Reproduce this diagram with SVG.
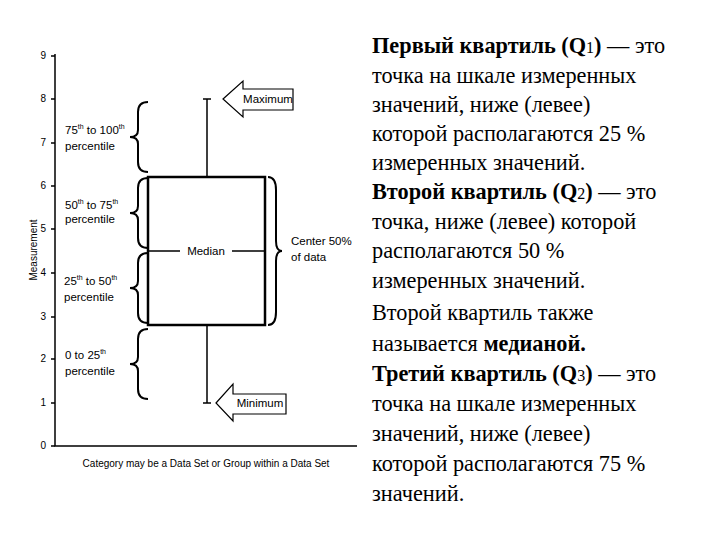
<svg xmlns="http://www.w3.org/2000/svg" width="720" height="540" viewBox="0 0 720 540">
<style>
.ax{stroke:#000;stroke-width:1.5;fill:none}
.sm{font-family:"Liberation Sans",Arial,sans-serif;font-size:10px;fill:#000}
.lb{font-family:"Liberation Sans",Arial,sans-serif;font-size:11.5px;fill:#000}
.br{stroke:#000;stroke-width:2;fill:none}
.tx{font-family:"Liberation Serif","Times New Roman",serif;font-size:22.3px;fill:#000}
</style>
<rect width="720" height="540" fill="#fff"/>
<g id="axes">
<path class="ax" d="M55,54 V446 H357"/>
<g class="sm" text-anchor="end">
<text x="46" y="59">9</text><text x="46" y="102">8</text><text x="46" y="146">7</text><text x="46" y="189">6</text><text x="46" y="232">5</text><text x="46" y="276">4</text><text x="46" y="320">3</text><text x="46" y="362">2</text><text x="46" y="406">1</text><text x="46" y="449">0</text>
</g>
<path class="ax" stroke-width="1" d="M51,56h4M51,99h4M51,143h4M51,186h4M51,229h4M51,273h4M51,317h4M51,359h4M51,403h4M51,446h4"/>
<text class="sm" transform="translate(37,250) rotate(-90)" text-anchor="middle" font-size="9">Measurement</text>
<text class="sm" x="206" y="467" text-anchor="middle" font-size="10.5">Category may be a Data Set or Group within a Data Set</text>
</g>
<g id="box">
<rect x="148" y="177" width="117" height="148" fill="none" stroke="#000" stroke-width="2.5"/>
<path stroke="#000" stroke-width="1.5" d="M148,251H180M232,251H265M207,99V177M207,325V403M203,99h8M203,403h8"/>
<text class="lb" x="206" y="255" text-anchor="middle">Median</text>
</g>
<g id="maximum">
<path d="M223,99 L243,81 V89 H293 V110 H243 V117 Z" fill="#fff" stroke="#000" stroke-width="1.2"/>
<text class="lb" x="268" y="103" text-anchor="middle">Maximum</text>
</g>
<g id="minimum">
<path d="M216,403 L233,384 V394 H286 V414 H233 V421 Z" fill="#fff" stroke="#000" stroke-width="1.2"/>
<text class="lb" x="260" y="407" text-anchor="middle">Minimum</text>
</g>
<g id="braces">
<path class="br" d="M148,102 Q138,102 138,112 V130 Q138,137 130,137 Q138,137 138,144 V162 Q138,172 148,172"/>
<path class="br" d="M148,178 Q138,178 138,188 V206 Q138,213 130,213 Q138,213 138,220 V238 Q138,248 148,248"/>
<path class="br" d="M148,253 Q138,253 138,263 V281 Q138,288 130,288 Q138,288 138,295 V313 Q138,323 148,323"/>
<path class="br" d="M148,329 Q138,329 138,339 V357 Q138,364 130,364 Q138,364 138,371 V389 Q138,399 148,399"/>
<path class="br" d="M268,177 Q276,177 276,190 V241 Q276,251 282,251 Q276,251 276,261 V312 Q276,325 268,325"/>
</g>
<g id="labels" class="lb">
<text x="65" y="134">75<tspan font-size="7" dy="-5">th</tspan><tspan dy="5"> to 100</tspan><tspan font-size="7" dy="-5">th</tspan></text>
<text x="65" y="150">percentile</text>
<text x="65" y="209">50<tspan font-size="7" dy="-5">th</tspan><tspan dy="5"> to 75</tspan><tspan font-size="7" dy="-5">th</tspan></text>
<text x="65" y="223">percentile</text>
<text x="64" y="285">25<tspan font-size="7" dy="-5">th</tspan><tspan dy="5"> to 50</tspan><tspan font-size="7" dy="-5">th</tspan></text>
<text x="64" y="301">percentile</text>
<text x="65" y="359">0 to 25<tspan font-size="7" dy="-5">th</tspan></text>
<text x="65" y="375">percentile</text>
<text x="291" y="245">Center 50%</text>
<text x="291" y="261">of data</text>
</g>
<g id="text" class="tx">
<text x="372" y="53"><tspan font-weight="bold">Первый квартиль (Q</tspan><tspan font-size="16">1</tspan><tspan font-weight="bold">)</tspan> — это</text>
<text x="372" y="83">точка на шкале измеренных</text>
<text x="372" y="112">значений, ниже (левее)</text>
<text x="372" y="141">которой располагаются 25 %</text>
<text x="372" y="170">измеренных значений.</text>
<text x="372" y="199"><tspan font-weight="bold">Второй квартиль (Q</tspan><tspan font-size="16">2</tspan><tspan font-weight="bold">)</tspan> — это</text>
<text x="372" y="229">точка, ниже (левее) которой</text>
<text x="372" y="258">располагаются 50 %</text>
<text x="372" y="288">измеренных значений.</text>
<text x="372" y="320">Второй квартиль также</text>
<text x="372" y="351">называется <tspan font-weight="bold">медианой.</tspan></text>
<text x="372" y="381"><tspan font-weight="bold">Третий квартиль (Q</tspan><tspan font-size="16">3</tspan><tspan font-weight="bold">)</tspan> — это</text>
<text x="372" y="411">точка на шкале измеренных</text>
<text x="372" y="441">значений, ниже (левее)</text>
<text x="372" y="471">которой располагаются 75 %</text>
<text x="372" y="501">значений.</text>
</g>
</svg>
